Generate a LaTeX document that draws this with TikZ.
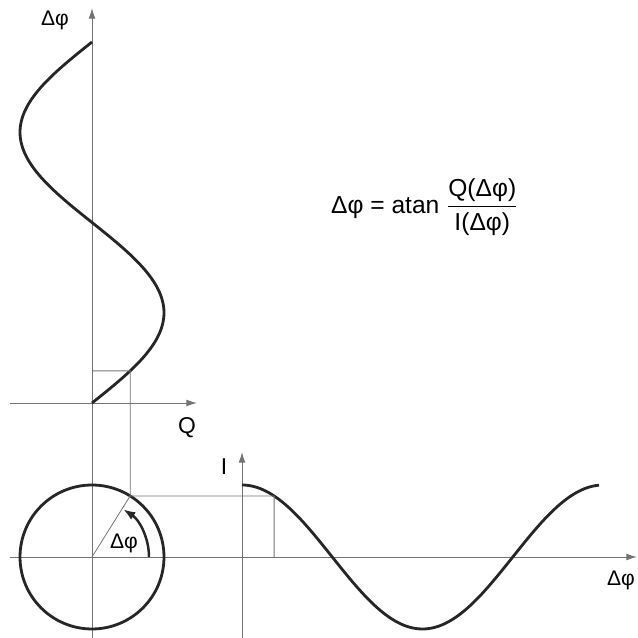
\documentclass[tikz,border=0pt]{standalone}
\usepackage{amsmath}
\usepackage{fontspec}
\setmainfont{Liberation Sans}
\usepackage{tikz}
\usetikzlibrary{arrows.meta, calc}

\begin{document}
\begin{tikzpicture}[x=0.02cm, y=0.02cm,
    axis/.style={black!55, line width=0.5pt, -{Latex[length=6pt, width=3.8pt]}},
    guide/.style={black!55, line width=0.45pt},
    wave/.style={black!85, line width=1.6pt},
    lbl/.style={inner sep=1pt, font=\fontsize{12}{14}\selectfont},
    biglbl/.style={inner sep=1pt, font=\fontsize{13}{15}\selectfont}]
    \useasboundingbox (0,0) rectangle (637,638);

    % 原点
    \coordinate (O1) at (92,235);
    \coordinate (O2) at (92,81);
    \coordinate (O3) at (242,81);

    % 坐标轴
    \draw[axis] (92,0) -- (92,630) coordinate (phitop);
    \draw[axis] (10,235) -- (197,235) coordinate (qend);
    \draw[axis] (10,81) -- (637,81) coordinate (phiend);
    \draw[axis] (242,0) -- (242,186) coordinate (iend);

    % 曲线 Q 与 I
    \draw[wave] plot[domain=0:360, samples=120] ({92+72*sin(\x)}, {235+1.00278*\x});
    \draw[wave] plot[domain=0:356, samples=120] ({242+1.00278*\x}, {81+72*cos(\x)});

    % 单位圆
    \draw[wave] (O2) circle[radius=1.44cm];
    \coordinate (P) at ($(O2)+(58:72)$);
    \draw[guide] (O2) -- (P);
    \draw[wave, line width=1.4pt, -{Latex[length=7pt, width=5pt]}] ($(O2)+(57,0)$) arc[start angle=0, end angle=57, radius=1.14cm];

    % 投影线
    \coordinate (Qp) at (130.2,267.1);
    \coordinate (Ip) at (274.1,142.1);
    \draw[guide] (P) -- (Qp) -- (92,267.1);
    \draw[guide] (P) -- (Ip) -- (274.1,81);

    % 标注
    \node[lbl] (lphitop) at (55,618) {Δφ};
    \node[biglbl] (lq) at (187,210) {Q};
    \node[biglbl] (li) at (224,171) {I};
    \node[lbl] (lphiend) at (621,58) {Δφ};
    \node[lbl] (larc) at (124,95) {Δφ};

    % 公式
    \node[inner sep=1pt, anchor=west, font=\fontsize{14}{16}\selectfont] (formula) at (329,431)
        {Δφ = atan $\dfrac{\text{Q(Δφ)}}{\text{I(Δφ)}}$};
\end{tikzpicture}
\end{document}
